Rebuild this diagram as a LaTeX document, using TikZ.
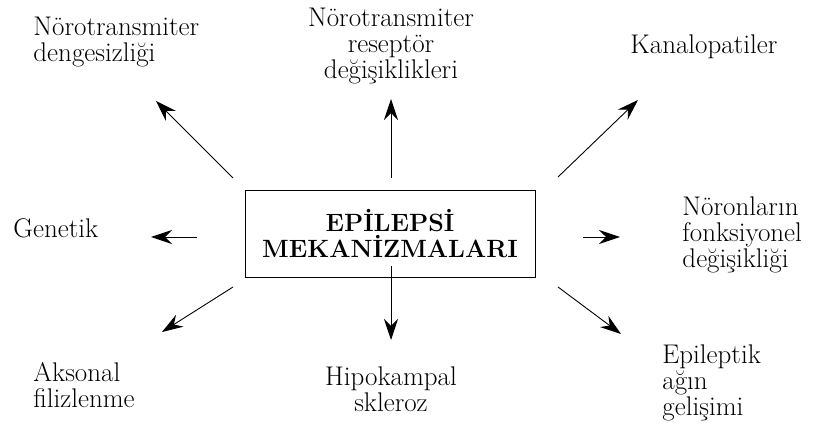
\documentclass[tikz,border=0pt]{standalone}
\usetikzlibrary{arrows.meta}

\begin{document}
\begin{tikzpicture}[->,>={Stealth[length=21pt,width=14pt,inset=7pt]},x=1pt,y=-1pt,line width=0.9pt,
	lbl/.style={font=\fontsize{27}{26}\selectfont,inner sep=0pt},
	mech/.style={draw,minimum width=290pt,minimum height=87pt,align=center,font=\fontsize{25}{26}\selectfont\bfseries}]

\useasboundingbox(0,0)rectangle(820,430);

\node[mech](mek) at (390,233.5){EPİLEPSİ\\MEKANİZMALARI};

% multi-line labels: base = last line
\node[lbl,align=left,anchor=base west](ntd) at (33,62){Nörotransmiter\\dengesizliği};
\node[lbl,align=center,anchor=base](ntr) at (391,79){Nörotransmiter\\reseptör\\değişiklikleri};
\node[lbl,anchor=base west](kan) at (630,54){Kanalopatiler};
\node[lbl,anchor=base west](gen) at (13,238){Genetik};
\node[lbl,align=left,anchor=base west](nfd) at (682,268){Nöronların\\fonksiyonel\\değişikliği};
\node[lbl,align=left,anchor=base west](aks) at (33,408){Aksonal\\filizlenme};
\node[lbl,align=center,anchor=base](hip) at (391,412){Hipokampal\\skleroz};
\node[lbl,align=left,anchor=base west](epi) at (662,416){Epileptik\\ağın\\gelişimi};

\coordinate(s1) at (233,178); \coordinate(t1) at (156,101);
\coordinate(s2) at (391,178); \coordinate(t2) at (391,99);
\coordinate(s3) at (558,177); \coordinate(t3) at (638,100);
\coordinate(s4) at (197,237); \coordinate(t4) at (151,237);
\coordinate(s5) at (583,237); \coordinate(t5) at (620,237);
\coordinate(s6) at (233,287); \coordinate(t6) at (162,332);
\coordinate(s7) at (391,266); \coordinate(t7) at (391,340);
\coordinate(s8) at (558,287); \coordinate(t8) at (621,334);

\path(s1)edge(t1)
	(s2)edge(t2)
	(s3)edge(t3)
	(s4)edge(t4)
	(s5)edge(t5)
	(s6)edge(t6)
	(s7)edge(t7)
	(s8)edge(t8);

\end{tikzpicture}
\end{document}
